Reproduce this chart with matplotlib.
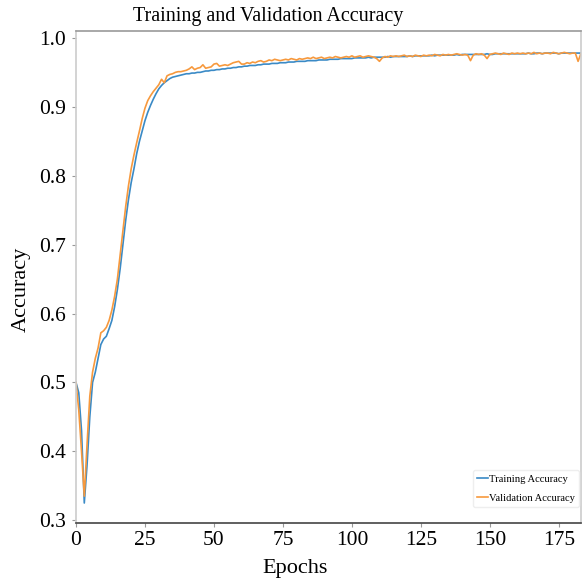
import matplotlib
matplotlib.use("Agg")
import matplotlib.pyplot as plt

# accuracy per epoch
train_acc = [
    0.500, 0.485, 0.430, 0.325, 0.380, 0.450, 0.500, 0.515, 0.535, 0.555,
    0.563, 0.567, 0.578, 0.590, 0.610, 0.635, 0.665, 0.700, 0.735, 0.765,
    0.790, 0.810, 0.832, 0.850, 0.865, 0.880, 0.892, 0.902, 0.911, 0.919,
    0.926, 0.931, 0.935, 0.938, 0.941, 0.943, 0.944, 0.945, 0.946, 0.947,
    0.948,
    0.948, 0.949, 0.949, 0.950, 0.950, 0.951, 0.952, 0.952, 0.953, 0.953,
    0.954, 0.954, 0.955, 0.955, 0.956, 0.956, 0.957, 0.957, 0.958, 0.958,
    0.959, 0.959, 0.960, 0.960, 0.960, 0.961, 0.961, 0.962, 0.962, 0.962,
    0.963, 0.963, 0.963, 0.964, 0.964, 0.964, 0.965, 0.965, 0.965, 0.966,
    0.966, 0.966, 0.966, 0.967, 0.967, 0.967, 0.967, 0.968, 0.968, 0.968,
    0.968, 0.969, 0.969, 0.969, 0.969, 0.970, 0.970, 0.970, 0.970, 0.970,
    0.971, 0.971, 0.971, 0.971, 0.971, 0.972, 0.971, 0.972, 0.972, 0.972,
    0.972, 0.972, 0.973, 0.972, 0.973, 0.973, 0.973, 0.973, 0.973, 0.973,
    0.974, 0.973, 0.974, 0.974, 0.974, 0.974, 0.974, 0.974, 0.975, 0.974,
    0.975, 0.975, 0.975, 0.975, 0.975, 0.975, 0.975, 0.976, 0.975, 0.976,
    0.976, 0.976, 0.976, 0.976, 0.976, 0.976, 0.976, 0.976, 0.977, 0.976,
    0.976, 0.977, 0.977, 0.977, 0.977, 0.977, 0.977, 0.977, 0.977, 0.977,
    0.977, 0.977, 0.977, 0.978, 0.977, 0.977, 0.978, 0.978, 0.977, 0.978,
    0.978, 0.978, 0.978, 0.978, 0.977, 0.978, 0.978, 0.978, 0.978, 0.978,
    0.978, 0.978, 0.978,
]

val_acc = [
    0.500, 0.460, 0.400, 0.335, 0.410, 0.480, 0.515, 0.535, 0.550, 0.572,
    0.575, 0.580, 0.590, 0.605, 0.625, 0.650, 0.685, 0.720, 0.755, 0.785,
    0.810, 0.830, 0.848, 0.865, 0.883, 0.898, 0.909, 0.916, 0.922, 0.927,
    0.932, 0.940, 0.935, 0.945, 0.947, 0.948, 0.950, 0.951, 0.951, 0.952,
    0.953,
    0.955, 0.958, 0.954, 0.956, 0.957, 0.961, 0.956, 0.957, 0.958, 0.962,
    0.963, 0.959, 0.960, 0.961, 0.960, 0.962, 0.964, 0.965, 0.966, 0.962,
    0.962, 0.964, 0.963, 0.965, 0.964, 0.966, 0.967, 0.965, 0.966, 0.968,
    0.967, 0.969, 0.968, 0.967, 0.968, 0.969, 0.968, 0.970, 0.969, 0.968,
    0.970, 0.969, 0.970, 0.971, 0.970, 0.972, 0.970, 0.971, 0.972, 0.970,
    0.971, 0.972, 0.971, 0.973, 0.972, 0.971, 0.972, 0.973, 0.972, 0.974,
    0.972, 0.973, 0.974, 0.972, 0.973, 0.974, 0.973, 0.972, 0.970, 0.966,
    0.971, 0.973, 0.972, 0.974, 0.973, 0.974, 0.973, 0.974, 0.975, 0.973,
    0.974, 0.973, 0.975, 0.974, 0.973, 0.975, 0.974, 0.975, 0.974, 0.976,
    0.975, 0.974, 0.976, 0.975, 0.976, 0.975, 0.976, 0.977, 0.976, 0.975,
    0.976, 0.975, 0.967, 0.975, 0.977, 0.976, 0.977, 0.975, 0.970, 0.976,
    0.977, 0.978, 0.977, 0.976, 0.978, 0.977, 0.976, 0.978, 0.977, 0.978,
    0.977, 0.978, 0.977, 0.978, 0.977, 0.979, 0.977, 0.978, 0.977, 0.978,
    0.978, 0.977, 0.979, 0.978, 0.977, 0.978, 0.979, 0.978, 0.977, 0.978,
    0.978, 0.966, 0.977,
]

epochs = list(range(len(train_acc)))

plt.rcParams["font.family"] = ["Liberation Serif", "DejaVu Serif"]

fig = plt.figure(figsize=(5.82, 5.81), dpi=100)
ax = fig.add_axes([0.1306, 0.0998, 0.8674, 0.8468])

ax.plot(epochs, train_acc, color="#3a8ac6", lw=1.2, label="Training Accuracy")
ax.plot(epochs, val_acc, color="#f7993d", lw=1.2, label="Validation Accuracy")

ax.set_xlim(0, epochs[-1])
ax.set_ylim(0.296, 1.010)
ax.set_xticks([0, 25, 50, 75, 100, 125, 150, 175])
ax.set_yticks([0.3, 0.4, 0.5, 0.6, 0.7, 0.8, 0.9, 1.0])

# the source image looks cropped on the right, so title / xlabel sit left of centre
ax.set_title("Training and Validation Accuracy", fontsize=14.5, pad=7, x=0.38)
ax.set_xlabel("Epochs", fontsize=16, labelpad=6, x=0.434)
ax.set_ylabel("Accuracy", fontsize=16, labelpad=6, y=0.474)
ax.tick_params(labelsize=15.5, length=3, width=0.8, color="#999999")
ax.tick_params(axis="x", pad=3)
ax.tick_params(axis="y", pad=4)

ax.spines["left"].set_color("#cccccc")
ax.spines["top"].set_color("#9a9a9a")
ax.spines["right"].set_color("#cccccc")
ax.spines["bottom"].set_color("#444444")
for s in ax.spines.values():
    s.set_linewidth(1.2)

leg = ax.legend(loc="lower right", bbox_to_anchor=(0.996, 0.033), fontsize=7.6,
                handlelength=1.0, handletextpad=0.1, labelspacing=0.9,
                borderaxespad=0, framealpha=1)
leg.get_frame().set_edgecolor("#eeeeee")

fig.savefig("out.png", dpi=100)
plt.close(fig)
